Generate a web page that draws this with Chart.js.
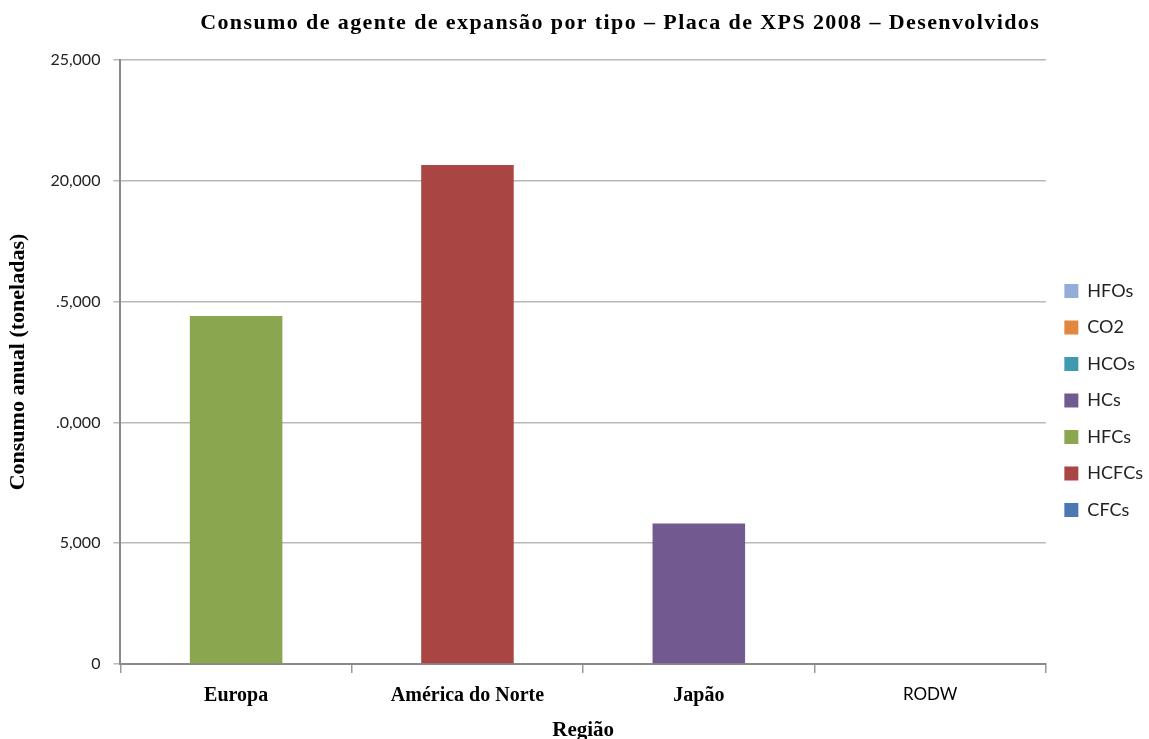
<!DOCTYPE html>
<html>
<head>
<meta charset="utf-8">
<script src="https://cdn.jsdelivr.net/npm/chart.js@4"></script>
<style>
  html, body { margin: 0; padding: 0; background: #fff; }
  #wrap { width: 1149px; height: 739px; }
</style>
</head>
<body>
<div id="wrap"><canvas id="chart" width="1149" height="739"></canvas></div>
<script>
const chartTitle = "Consumo de agente de expansão por tipo – Placa de XPS 2008 – Desenvolvidos";
const regions = ["Europa", "América do Norte", "Japão", "RODW"];

// stack order bottom -> top
const seriesNames = ["CFCs", "HCFCs", "HFCs", "HCs", "HCOs", "CO2", "HFOs"];
const cfcs = [0, 0, 0, 0];
const hcfcs = [0, 20650, 0, 0];
const hfcs = [14400, 0, 0, 0];
const hcs = [0, 0, 5820, 0];
const hcos = [0, 0, 0, 0];
const co2 = [0, 0, 0, 0];
const hfos = [0, 0, 0, 0];
const seriesColors = ["#4A78B2", "#A94643", "#8AA64E", "#725A90", "#3F9AB0", "#E2873D", "#93ACD8"];

const yTickValues = [0, 5000, 10000, 15000, 20000, 25000];
const yTickLabels = ["0", "5,000", ".0,000", ".5,000", "20,000", "25,000"];

const serif = "'Liberation Serif', 'DejaVu Serif', serif";
const sans = "Lato, 'Open Sans', sans-serif";

const seriesValues = [cfcs, hcfcs, hfcs, hcs, hcos, co2, hfos];
const datasets = seriesNames.map((name, i) => ({
  label: name,
  data: seriesValues[i],
  backgroundColor: seriesColors[i],
  borderWidth: 0,
  barPercentage: 0.4,
  categoryPercentage: 1.0,
}));

// title drawn by hand so it can be spaced out like the original
const spacedTitle = {
  id: "spacedTitle",
  afterDraw(chart) {
    const { ctx, chartArea } = chart;
    ctx.save();
    ctx.font = `bold 22px ${serif}`;
    ctx.letterSpacing = "1.4px";
    ctx.fillStyle = "#000";
    ctx.textAlign = "center";
    ctx.textBaseline = "middle";
    ctx.fillText(chartTitle, (chartArea.left + chartArea.right) / 2 + 37, 23);
    ctx.restore();
  },
};

new Chart(document.getElementById("chart"), {
  type: "bar",
  data: { labels: regions, datasets },
  plugins: [spacedTitle],
  options: {
    responsive: false,
    animation: false,
    layout: { padding: { left: 5, right: -4, top: 60, bottom: -2 } },
    plugins: {
      title: { display: false },
      legend: {
        position: "right",
        reverse: true,
        labels: {
          boxWidth: 14,
          boxHeight: 14,
          padding: 18.5,
          color: "#222",
          font: { family: sans, size: 18 },
        },
      },
      tooltip: { enabled: false },
    },
    scales: {
      x: {
        stacked: true,
        grid: {
          drawOnChartArea: false,
          drawTicks: true,
          tickLength: 9,
          color: "#999",
          lineWidth: 1.5,
        },
        border: { color: "#8a8a8a", width: 2 },
        ticks: {
          color: "#000",
          padding: 13,
          font: (ctx) =>
            ctx.index === 3
              ? { family: sans, size: 17, lineHeight: 1.0 }
              : { family: serif, size: 20, weight: "bold", lineHeight: 1.0 },
        },
        title: {
          display: true,
          text: "Região",
          color: "#000",
          font: { family: serif, size: 21, weight: "bold", lineHeight: 1.0 },
          padding: { top: 1, bottom: 0 },
        },
      },
      y: {
        stacked: true,
        min: 0,
        max: 25000,
        afterBuildTicks: (axis) => {
          axis.ticks = yTickValues.map((v) => ({ value: v }));
        },
        grid: {
          color: "#b8b8b8",
          lineWidth: 1.5,
          tickLength: 7,
        },
        border: { color: "#8a8a8a", width: 2 },
        ticks: {
          color: "#222",
          padding: 13,
          font: { family: sans, size: 16 },
          callback: (value) => {
            const i = yTickValues.indexOf(value);
            return i >= 0 ? yTickLabels[i] : "";
          },
        },
        title: {
          display: true,
          text: "Consumo anual (toneladas)",
          color: "#000",
          font: { family: serif, size: 22, weight: "bold" },
          padding: { top: 0, bottom: 6 },
        },
      },
    },
  },
});
</script>
</body>
</html>
